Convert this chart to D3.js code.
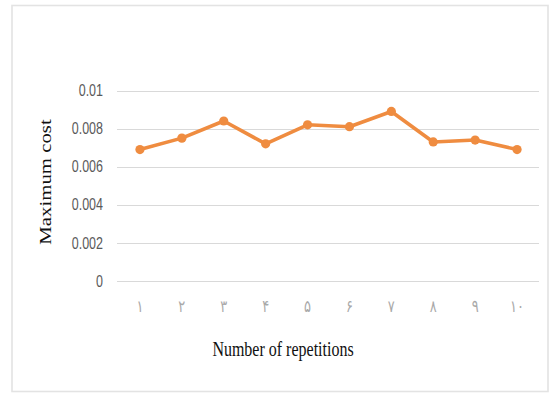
<!DOCTYPE html>
<html>
<head>
<meta charset="utf-8">
<script src="https://cdn.jsdelivr.net/npm/d3@7"></script>
<style>
  html, body { margin: 0; padding: 0; background: #fff; }
  svg { display: block; }
</style>
</head>
<body>
<svg id="chart" width="558" height="393"></svg>
<script>
// Repetition labels (Persian numerals) and the maximum cost for each run
const repetitions = ["۱", "۲", "۳", "۴", "۵", "۶", "۷", "۸", "۹", "۱۰"];
const maxCost = [0.0069, 0.0075, 0.0084, 0.0072, 0.0082, 0.0081, 0.0089, 0.0073, 0.0074, 0.0069];
const yTicks = [0, 0.002, 0.004, 0.006, 0.008, 0.01];
const yTickLabels = ["0", "0.002", "0.004", "0.006", "0.008", "0.01"];

const svg = d3.select("#chart");
const plot = { left: 119, right: 538, top: 90.5, bottom: 281 };
const stretch = 1.3; // text is drawn slightly tall

// chart frame
svg.append("rect")
  .attr("x", 12).attr("y", 5.5)
  .attr("width", 536).attr("height", 386)
  .attr("fill", "#fff")
  .attr("stroke", "#e3e3e3")
  .attr("stroke-width", 1.6);

const x = d3.scaleBand().domain(repetitions).range([plot.left, plot.right]);
const y = d3.scaleLinear().domain([0, 0.01]).range([plot.bottom, plot.top]);

// horizontal gridlines
svg.append("g")
  .selectAll("line")
  .data(yTicks)
  .join("line")
  .attr("x1", plot.left - 2).attr("x2", plot.right + 1)
  .attr("y1", d => Math.round(y(d)) + 0.5)
  .attr("y2", d => Math.round(y(d)) + 0.5)
  .attr("stroke", "#d9d9d9")
  .attr("stroke-width", 1.2);

// y tick labels
svg.append("g")
  .selectAll("text")
  .data(yTicks)
  .join("text")
  .attr("transform", d => `translate(103,${y(d)}) scale(1,${stretch})`)
  .attr("text-anchor", "end")
  .attr("dy", "0.35em")
  .attr("font-family", "'Liberation Sans', Arial, sans-serif")
  .attr("font-size", 12.5)
  .attr("fill", "#595959")
  .text((d, i) => yTickLabels[i]);

// x tick labels
svg.append("g")
  .selectAll("text")
  .data(repetitions)
  .join("text")
  .attr("transform", d => `translate(${x(d) + x.bandwidth() / 2},306) scale(1,${stretch})`)
  .attr("text-anchor", "middle")
  .attr("dy", "0.35em")
  .attr("font-family", "'DejaVu Sans', serif")
  .attr("font-size", 13)
  .attr("fill", "#a9a9a9")
  .text(d => d);

// series line
const line = d3.line()
  .x((d, i) => x(repetitions[i]) + x.bandwidth() / 2)
  .y(d => y(d));

svg.append("path")
  .datum(maxCost)
  .attr("d", line)
  .attr("fill", "none")
  .attr("stroke", "#ef8c40")
  .attr("stroke-width", 3.6)
  .attr("stroke-linejoin", "round");

svg.append("g")
  .selectAll("circle")
  .data(maxCost)
  .join("circle")
  .attr("cx", (d, i) => x(repetitions[i]) + x.bandwidth() / 2)
  .attr("cy", d => y(d))
  .attr("r", 4.6)
  .attr("fill", "#ef8c40");

// axis titles
svg.append("text")
  .attr("transform", `translate(283,349) scale(1,${stretch})`)
  .attr("text-anchor", "middle")
  .attr("dy", "0.35em")
  .attr("font-family", "'Liberation Serif', 'Times New Roman', serif")
  .attr("font-size", 16)
  .attr("fill", "#111")
  .text("Number of repetitions");

svg.append("text")
  .attr("transform", `translate(45,182) scale(1,${stretch}) rotate(-90)`)
  .attr("text-anchor", "middle")
  .attr("dy", "0.35em")
  .attr("font-family", "'Liberation Serif', 'Times New Roman', serif")
  .attr("font-size", 16)
  .attr("fill", "#111")
  .text("Maximum cost");
</script>
</body>
</html>
